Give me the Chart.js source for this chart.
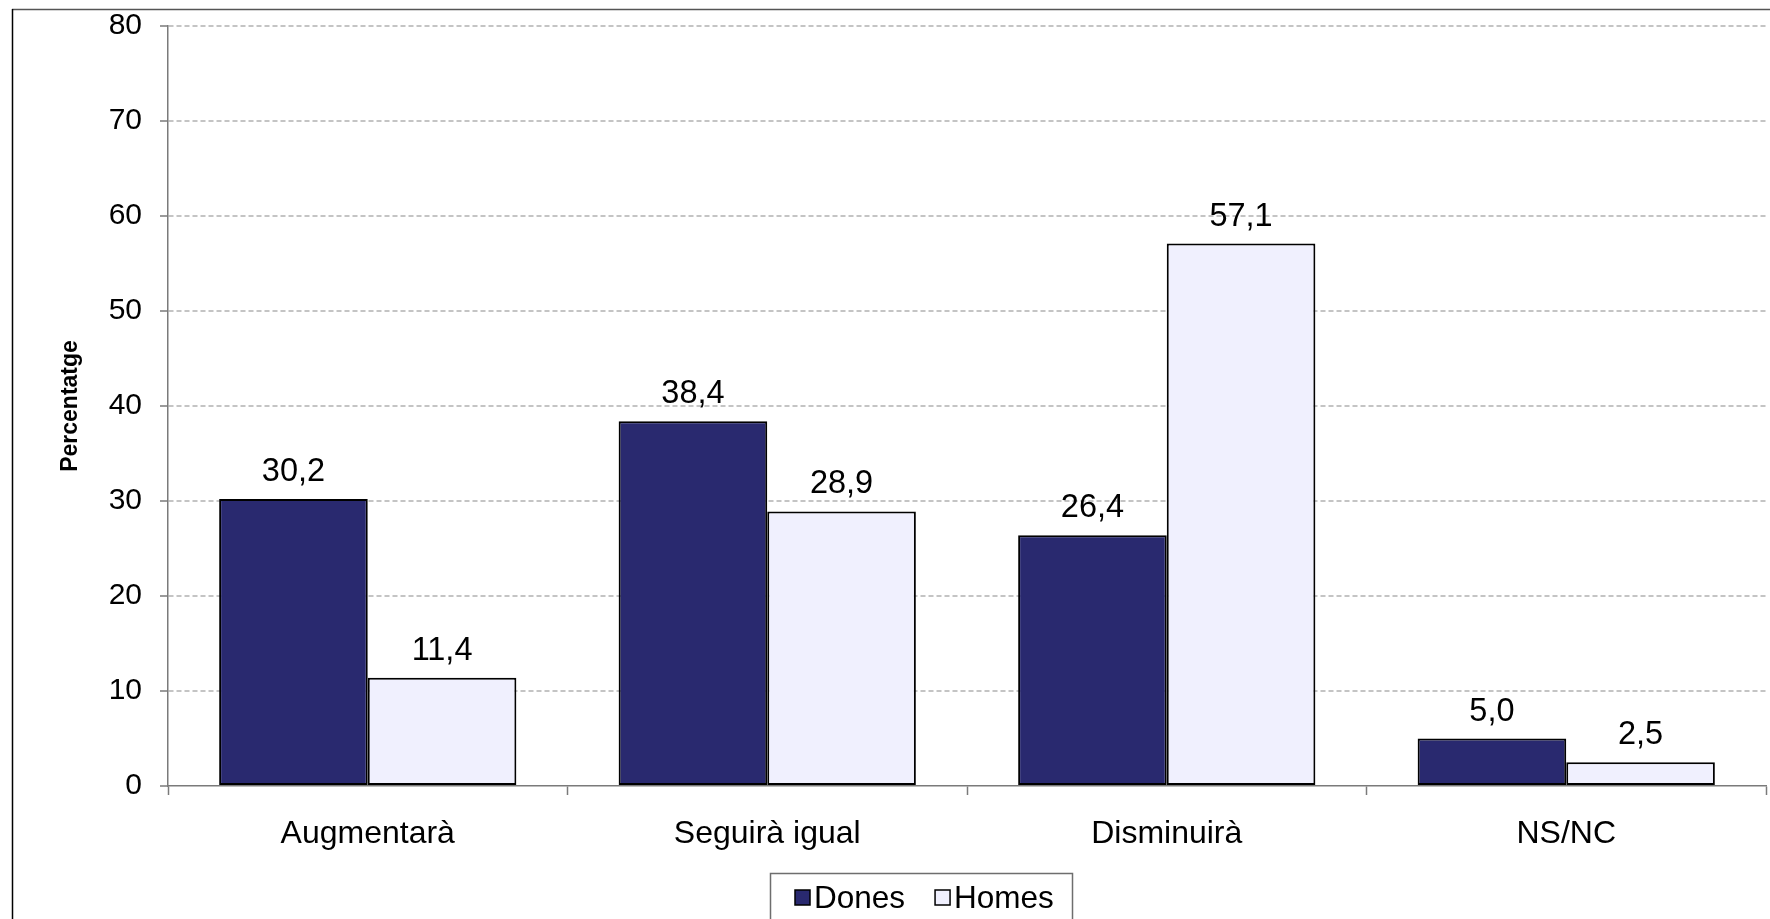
<!DOCTYPE html>
<html>
<head>
<meta charset="utf-8">
<script src="https://cdn.jsdelivr.net/npm/chart.js@4.4.0/dist/chart.umd.min.js"></script>
<style>
  html, body { margin: 0; padding: 0; background: #fff; overflow: hidden; }
  canvas { display: block; }
</style>
</head>
<body>
<canvas id="grafic" width="1770" height="940"></canvas>
<script>
// Dades
const categories = ['Augmentarà', 'Seguirà igual', 'Disminuirà', 'NS/NC'];
const seriesNames = ['Dones', 'Homes'];
const dones = [30.2, 38.4, 26.4, 5.0];
const homes = [11.4, 28.9, 57.1, 2.5];
const yMin = 0;
const yMax = 80;
const yStep = 10;

const FONT = '"Liberation Sans", Arial, sans-serif';
const colorDones = '#29296f';
const colorHomes = '#f0f0fe';

// Marc exterior i fons blanc
const marcPlugin = {
  id: 'marc',
  beforeDraw(chart) {
    const c = chart.ctx;
    c.save();
    c.fillStyle = '#ffffff';
    c.fillRect(0, 0, chart.width, chart.height);
    c.lineWidth = 1.5;
    c.strokeStyle = '#555555';
    c.beginPath();
    c.moveTo(12, 9.5);
    c.lineTo(chart.width, 9.5);
    c.stroke();
    c.strokeStyle = '#000000';
    c.beginPath();
    c.moveTo(12.5, 9);
    c.lineTo(12.5, chart.height);
    c.stroke();
    c.restore();
  }
};

// Valors damunt de les barres
const etiquetesPlugin = {
  id: 'etiquetes',
  afterDatasetsDraw(chart) {
    const c = chart.ctx;
    c.save();
    c.font = '32.5px ' + FONT;
    c.fillStyle = '#000000';
    c.textAlign = 'center';
    c.textBaseline = 'alphabetic';
    chart.data.datasets.forEach((ds, i) => {
      const meta = chart.getDatasetMeta(i);
      meta.data.forEach((bar, j) => {
        const txt = ds.data[j].toFixed(1).replace('.', ',');
        c.fillText(txt, bar.x, bar.y - 18);
      });
    });
    c.restore();
  }
};

// Llegenda amb marc a la part de baix
const llegendaPlugin = {
  id: 'llegenda',
  afterDraw(chart) {
    const c = chart.ctx;
    const left = 770, top = 873, right = 1072;
    c.save();
    c.lineWidth = 1.5;
    c.strokeStyle = '#6e6e6e';
    c.strokeRect(left + 0.5, top + 0.5, right - left, chart.height);
    c.font = '31.5px ' + FONT;
    c.textBaseline = 'alphabetic';
    c.textAlign = 'left';
    let x = 795;
    chart.data.datasets.forEach(ds => {
      c.fillStyle = ds.backgroundColor;
      c.fillRect(x, 890, 15, 15);
      c.strokeStyle = '#000000';
      c.lineWidth = 1.5;
      c.strokeRect(x, 890, 15, 15);
      c.fillStyle = '#000000';
      c.fillText(ds.label, x + 19, 908);
      x += 19 + c.measureText(ds.label).width + 30;
    });
    c.restore();
  }
};

const ctx = document.getElementById('grafic');

new Chart(ctx, {
  type: 'bar',
  data: {
    labels: categories,
    datasets: [
      {
        label: seriesNames[0],
        data: dones,
        backgroundColor: colorDones,
        borderColor: '#000000',
        borderWidth: 2,
        borderSkipped: false
      },
      {
        label: seriesNames[1],
        data: homes,
        backgroundColor: colorHomes,
        borderColor: '#000000',
        borderWidth: 2,
        borderSkipped: false
      }
    ]
  },
  options: {
    responsive: false,
    animation: false,
    devicePixelRatio: 1,
    layout: {
      padding: { left: 0, right: 4, top: 26, bottom: 84 }
    },
    datasets: {
      bar: { categoryPercentage: 0.744, barPercentage: 1.0 }
    },
    plugins: {
      legend: { display: false },
      tooltip: { enabled: false }
    },
    scales: {
      x: {
        afterFit(scale) {
          scale.height = 70;
          scale.paddingLeft = 0;
          scale.paddingRight = 0;
        },
        grid: {
          offset: true,
          drawOnChartArea: false,
          drawTicks: true,
          tickLength: 9,
          tickColor: '#7a7a7a',
          tickWidth: 1.5
        },
        border: { display: true, color: '#7a7a7a', width: 1.5 },
        ticks: {
          color: '#000000',
          padding: 20,
          maxRotation: 0,
          font: { family: FONT, size: 32 }
        }
      },
      y: {
        min: yMin,
        max: yMax,
        afterFit(scale) {
          scale.width = 168;
          scale.paddingTop = 0;
          scale.paddingBottom = 0;
        },
        title: {
          display: true,
          text: 'Percentatge',
          color: '#000000',
          padding: { top: 57, bottom: 0 },
          font: { family: FONT, size: 23, weight: 'bold' }
        },
        grid: {
          color: c => (c.tick && c.tick.value === 0) ? 'rgba(0,0,0,0)' : '#c4c4c4',
          lineWidth: 2,
          drawTicks: true,
          tickLength: 8,
          tickColor: '#7a7a7a',
          tickWidth: 1.5,
          tickBorderDash: []
        },
        border: { display: true, color: '#7a7a7a', width: 1.5, dash: [5, 3] },
        ticks: {
          stepSize: yStep,
          color: '#000000',
          padding: 18,
          font: { family: FONT, size: 30 }
        }
      }
    }
  },
  plugins: [marcPlugin, etiquetesPlugin, llegendaPlugin]
});
</script>
</body>
</html>
